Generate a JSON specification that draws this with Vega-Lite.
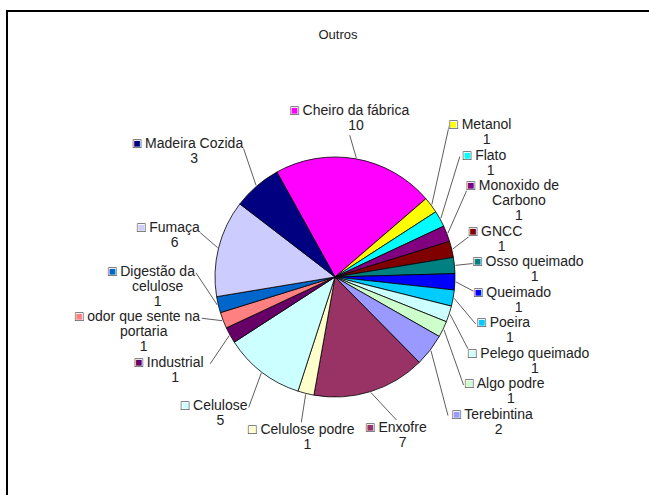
{
  "$schema": "https://vega.github.io/schema/vega-lite/v6.json",
  "autosize": {"type": "none"},
  "padding": {"left": 7, "top": 11, "right": -14, "bottom": -48},
  "width": 656,
  "height": 532,
  "background": "white",
  "view": {"stroke": "#000", "strokeWidth": 2},
  "config": {"view": {"stroke": "#000", "strokeWidth": 2}},
  "title": {"text": "Outros", "fontSize": 13, "fontWeight": "normal", "font": "Liberation Sans", "color": "#222", "anchor": "middle", "frame": "group", "offset": -41, "baseline": "alphabetic", "dx": 3},
  "data": {"values": [
    {"cat": "Cheiro da fábrica", "n": 10},
    {"cat": "Metanol", "n": 1},
    {"cat": "Flato", "n": 1},
    {"cat": "Monoxido de Carbono", "n": 1},
    {"cat": "GNCC", "n": 1},
    {"cat": "Osso queimado", "n": 1},
    {"cat": "Queimado", "n": 1},
    {"cat": "Poeira", "n": 1},
    {"cat": "Pelego queimado", "n": 1},
    {"cat": "Algo podre", "n": 1},
    {"cat": "Terebintina", "n": 2},
    {"cat": "Enxofre", "n": 7},
    {"cat": "Celulose podre", "n": 1},
    {"cat": "Celulose", "n": 5},
    {"cat": "Industrial", "n": 1},
    {"cat": "odor que sente na portaria", "n": 1},
    {"cat": "Digestão da celulose", "n": 1},
    {"cat": "Fumaça", "n": 6},
    {"cat": "Madeira Cozida", "n": 3}
  ]},
  "transform": [
    {"window": [{"op": "row_number", "as": "i"}]},
    {"stack": "n", "groupby": [], "sort": [{"field": "i", "order": "ascending"}], "as": ["s0", "s1"]},
    {"joinaggregate": [{"op": "sum", "field": "n", "as": "tot"}]},
    {"calculate": "(datum.s0 + datum.s1) / 2", "as": "sm"},
    {"calculate": "-0.5061 + 2 * PI * datum.sm / datum.tot", "as": "ang"},
    {"calculate": "sin(datum.ang)", "as": "ux"},
    {"calculate": "-cos(datum.ang)", "as": "uy"},
    {"calculate": "length(datum.cat) > 18 ? lastindexof(datum.cat, ' ') : -1", "as": "brk"},
    {"calculate": "datum.brk > 0 ? substring(datum.cat, 0, datum.brk) : datum.cat", "as": "l1"},
    {"calculate": "'\\u00a0' + (datum.brk > 0 ? '\\n' + substring(datum.cat, datum.brk + 1) : '') + '\\n' + datum.n", "as": "rest"},
    {"calculate": "'■ ' + datum.l1", "as": "keyf"},
    {"calculate": "'□ ' + datum.l1", "as": "keyo"},
    {"calculate": "datum.brk > 0 ? 3 : 2", "as": "nl"},
    {"calculate": "6.2 + 3.3 * length(datum.l1)", "as": "hw"},
    {"calculate": "7.5 * datum.nl", "as": "hh"},
    {"calculate": "15 * datum.nl + 0.5", "as": "h"},
    {"calculate": "abs(datum.ux) > 0.6 ? (datum.ux > 0 ? 'R' : 'L') : 'N'", "as": "col"},
    {"calculate": "datum.ux > 0 ? datum.i : -datum.i", "as": "ord"},
    {"calculate": "datum.col == 'N' ? 145 + 6 * max(datum.uy, 0) : 145", "as": "R"},
    {"calculate": "datum.R * datum.ux", "as": "ax"},
    {"calculate": "datum.R * datum.uy", "as": "ay"},
    {"calculate": "datum.ay + datum.hh * clamp(datum.uy / 0.7, -1, 1)", "as": "cyd"},
    {"window": [{"op": "sum", "field": "h", "as": "C"}], "groupby": ["col"], "sort": [{"field": "ord", "order": "ascending"}], "frame": [null, 0]},
    {"calculate": "datum.C - datum.h / 2", "as": "P"},
    {"calculate": "datum.cyd - datum.P", "as": "e"},
    {"window": [{"op": "max", "field": "e", "as": "emax"}], "groupby": ["col"], "sort": [{"field": "ord", "order": "ascending"}], "frame": [null, 0]},
    {"window": [{"op": "min", "field": "e", "as": "emin"}], "groupby": ["col"], "sort": [{"field": "ord", "order": "ascending"}], "frame": [0, null]},
    {"calculate": "datum.col == 'L' ? 0.3 : 0.5", "as": "wf"},
    {"calculate": "datum.col == 'N' ? datum.cyd : datum.P + datum.wf * datum.emax + (1 - datum.wf) * datum.emin", "as": "cy"},
    {"calculate": "datum.ux > 0 ? 1 : -1", "as": "sx"},
    {"calculate": "datum.col == 'N' ? datum.ax + datum.hw * (datum.ux * datum.uy + 0.3 * max(datum.uy, 0)) : datum.ax + datum.sx * datum.hw", "as": "cx"},
    {"calculate": "datum.col == 'N' ? datum.cx : datum.cx - datum.sx * (datum.hw + 2)", "as": "lx"},
    {"calculate": "datum.col == 'N' ? (datum.uy < 0 ? datum.cy + datum.hh + 1 : datum.cy - datum.hh - 1) : datum.cy - datum.hh + 8", "as": "ly"},
    {"calculate": "121 * datum.ux", "as": "ex"},
    {"calculate": "121 * datum.uy", "as": "ey"}
  ],
  "layer": [
    {
      "mark": {"type": "arc", "outerRadius": 120, "stroke": "#000", "strokeWidth": 0.8},
      "encoding": {
        "theta": {"field": "n", "type": "quantitative", "stack": true, "scale": {"range": [-0.5061, 5.7771], "nice": false, "zero": true}},
        "order": {"field": "i", "type": "quantitative"},
        "color": {"field": "cat", "type": "nominal", "legend": null, "sort": null,
          "scale": {"domain": ["Cheiro da fábrica", "Metanol", "Flato", "Monoxido de Carbono", "GNCC", "Osso queimado", "Queimado", "Poeira", "Pelego queimado", "Algo podre", "Terebintina", "Enxofre", "Celulose podre", "Celulose", "Industrial", "odor que sente na portaria", "Digestão da celulose", "Fumaça", "Madeira Cozida"],
            "range": ["#FF00FF", "#FFFF00", "#00FFFF", "#800080", "#800000", "#008080", "#0000FF", "#00CCFF", "#CCFFFF", "#CCFFCC", "#9999FF", "#993366", "#FFFFCC", "#CCFFFF", "#660066", "#FF8080", "#0066CC", "#CCCCFF", "#000080"]}}
      }
    },
    {
      "mark": {"type": "rule", "stroke": "#333", "strokeWidth": 0.8},
      "encoding": {
        "x": {"value": {"expr": "width / 2 + datum.ex"}},
        "y": {"value": {"expr": "height / 2 + datum.ey"}},
        "x2": {"value": {"expr": "width / 2 + datum.lx"}},
        "y2": {"value": {"expr": "height / 2 + datum.ly"}}
      }
    },
    {
      "mark": {"type": "text", "radius": 145, "align": "center", "baseline": "top", "font": "Liberation Sans", "fontSize": 14, "dx": {"expr": "datum.cx - 145 * datum.ux"}, "dy": {"expr": "datum.cy - datum.hh - 145 * datum.uy"}},
      "encoding": {
        "theta": {"field": "n", "type": "quantitative", "stack": true},
        "order": {"field": "i", "type": "quantitative"},
        "text": {"field": "keyf"},
        "color": {"field": "cat", "type": "nominal", "legend": null, "sort": null}
      }
    },
    {
      "mark": {"type": "text", "radius": 145, "align": "center", "baseline": "top", "font": "Liberation Sans", "fontSize": 14, "fill": "white", "stroke": "white", "strokeWidth": 1.4, "dx": {"expr": "datum.cx - 145 * datum.ux"}, "dy": {"expr": "datum.cy - datum.hh - 145 * datum.uy"}},
      "encoding": {
        "theta": {"field": "n", "type": "quantitative", "stack": true},
        "order": {"field": "i", "type": "quantitative"},
        "text": {"field": "keyo"}
      }
    },
    {
      "mark": {"type": "text", "radius": 145, "align": "center", "baseline": "top", "font": "Liberation Sans", "fontSize": 14, "fill": "#222", "dx": {"expr": "datum.cx - 145 * datum.ux"}, "dy": {"expr": "datum.cy - datum.hh - 145 * datum.uy"}},
      "encoding": {
        "theta": {"field": "n", "type": "quantitative", "stack": true},
        "order": {"field": "i", "type": "quantitative"},
        "text": {"field": "keyo"}
      }
    },
    {
      "mark": {"type": "text", "radius": 145, "align": "center", "baseline": "top", "font": "Liberation Sans", "fontSize": 14, "lineHeight": 15, "lineBreak": "\n", "fill": "#222", "dx": {"expr": "datum.cx - 145 * datum.ux + 6.2"}, "dy": {"expr": "datum.cy - datum.hh - 145 * datum.uy"}},
      "encoding": {
        "theta": {"field": "n", "type": "quantitative", "stack": true},
        "order": {"field": "i", "type": "quantitative"},
        "text": {"field": "rest"}
      }
    }
  ]
}
